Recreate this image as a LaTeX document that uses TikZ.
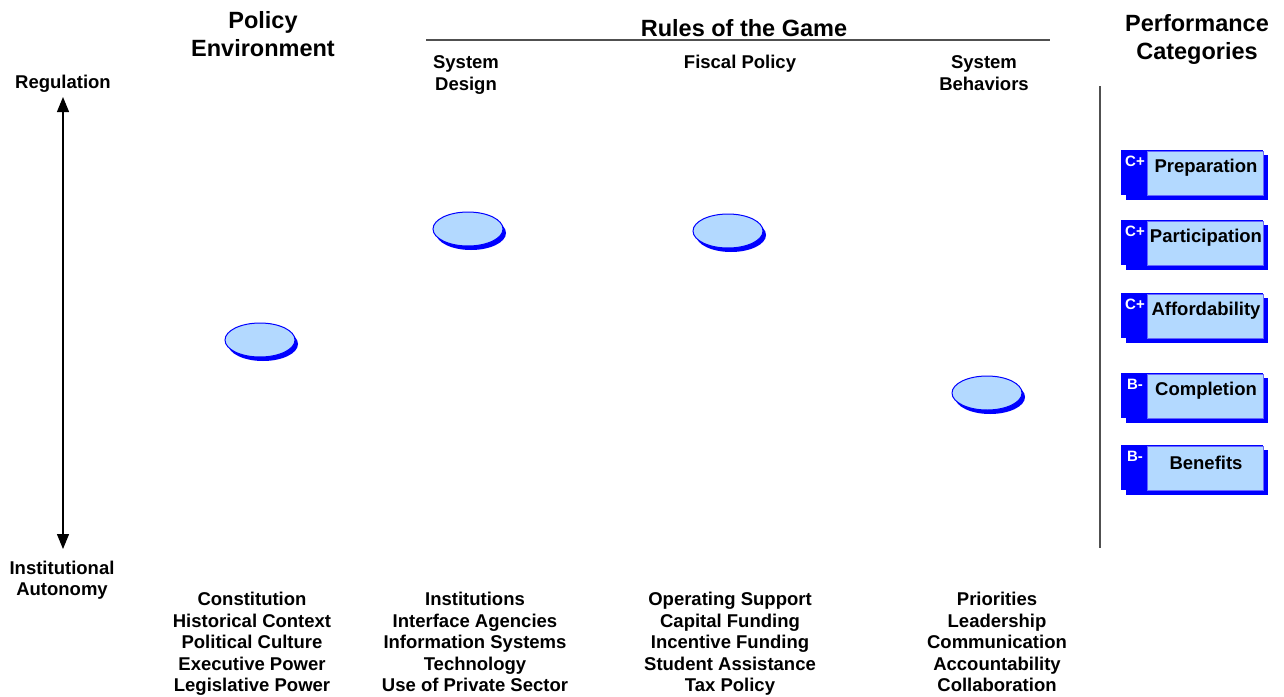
\documentclass[tikz,border=0pt]{standalone}
\usepackage{fontspec}
\setmainfont{Liberation Sans}
\usetikzlibrary{shapes.geometric,arrows.meta}
\definecolor{lightfill}{RGB}{179,217,255}
\definecolor{deepblue}{RGB}{0,0,255}
\definecolor{rulegray}{RGB}{80,80,80}
\begin{document}
\begin{tikzpicture}[x=1pt,y=-1pt,
  lbl/.style={font=\bfseries\fontsize{18.5}{21.5}\selectfont, align=center, inner sep=0pt},
  ttl/.style={font=\bfseries\fontsize{23.5}{27.5}\selectfont, align=center, inner sep=0pt},
  bigttl/.style={font=\bfseries\fontsize{23.5}{28}\selectfont, align=center, inner sep=0pt},
  blob/.style={ellipse, draw=deepblue, line width=1pt, fill=lightfill, minimum width=70pt, minimum height=34pt, inner sep=0pt},
  blobshadow/.style={ellipse, fill=deepblue, minimum width=70pt, minimum height=34pt, inner sep=0pt},
  grade/.style={font=\bfseries\fontsize{15}{15}\selectfont, text=white, inner sep=0pt},
  boxtxt/.style={font=\bfseries\fontsize{18.5}{21.5}\selectfont, inner sep=0pt}
]
\useasboundingbox (0,0) rectangle (1284,696);
\fill[white] (0,0) rectangle (1284,696);

% titles
\node[ttl] (pol) at (263,34) {Policy\\Environment};
\node[ttl] (rules) at (744,28) {Rules of the Game};
\node[bigttl] (perf) at (1197,39) {Performance\\Categories};
\coordinate (rl) at (426,40);
\coordinate (rr) at (1050,40);
\draw[rulegray, line width=1.5pt] (rl) -- (rr);

% sub headers
\node[lbl] (sd) at (466,75) {System\\Design};
\node[lbl] (fp) at (740,64) {Fiscal Policy};
\node[lbl] (sb) at (984,73) {System\\Behaviors};

% axis
\node[lbl] (reg) at (63,84) {Regulation};
\node[lbl] (aut) at (62,580) {Institutional\\Autonomy};
\coordinate (atop) at (63,97);
\coordinate (abot) at (63,549);
\draw[line width=1.2pt, {Triangle[length=15pt,width=12pt]}-{Triangle[length=15pt,width=12pt]}] (atop) -- (abot);

% divider
\coordinate (dt) at (1100,86);
\coordinate (db) at (1100,548);
\draw[rulegray, line width=1.2pt] (dt) -- (db);

% ellipses
\foreach \n/\x/\y in {e1/260/340, e2/468/229, e3/728/231, e4/987/393}{
  \node[blobshadow] (\n s) at (\x+3,\y+4) {};
  \node[blob] (\n) at (\x,\y) {};
}

% grade boxes
\foreach \n/\t/\g/\lab in {b1/150/C+/Preparation, b2/220/C+/Participation, b3/293/C+/Affordability, b4/373/B-/Completion, b5/445/B-/Benefits}{
  \fill[deepblue] (1126,\t+5) rectangle (1268,\t+50);
  \fill[deepblue] (1121,\t) rectangle (1263,\t+45);
  \draw[deepblue!60, fill=lightfill, line width=0.6pt] (1147,\t+1) rectangle (1263,\t+45);
  \node[grade] (\n g) at (1135,\t+11) {\g};
  \node[boxtxt] (\n) at (1206,\t+18) {\lab};
}

% bottom lists
\node[lbl, anchor=north] (l1) at (252,592) {Constitution\\Historical Context\\Political Culture\\Executive Power\\Legislative Power};
\node[lbl, anchor=north] (l2) at (475,592) {Institutions\\Interface Agencies\\Information Systems\\Technology\\Use of Private Sector};
\node[lbl, anchor=north] (l3) at (730,592) {Operating Support\\Capital Funding\\Incentive Funding\\Student Assistance\\Tax Policy};
\node[lbl, anchor=north] (l4) at (997,592) {Priorities\\Leadership\\Communication\\Accountability\\Collaboration};
\end{tikzpicture}
\end{document}
